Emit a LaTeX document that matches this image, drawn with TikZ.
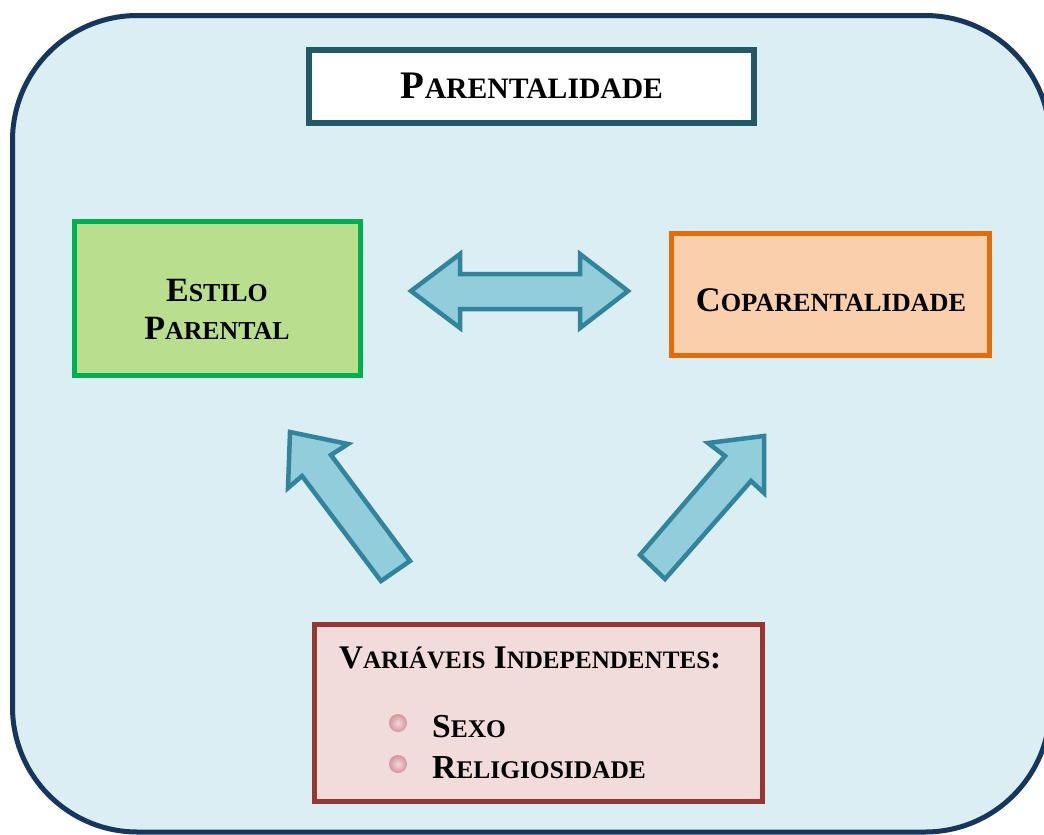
\documentclass[tikz,border=0pt]{standalone}
\usepackage{fontspec}
\setmainfont{Liberation Serif}
\usepackage{graphicx}
\definecolor{bgfill}{HTML}{DAEEF3}
\definecolor{outerline}{HTML}{17365D}
\definecolor{titleline}{HTML}{215968}
\definecolor{greenline}{HTML}{00B050}
\definecolor{greenfill}{HTML}{B9DF8E}
\definecolor{orangeline}{HTML}{E36C09}
\definecolor{orangefill}{HTML}{FAD0AC}
\definecolor{redline}{HTML}{953735}
\definecolor{redfill}{HTML}{F2DCDB}
\definecolor{arrowfill}{HTML}{92CDDC}
\definecolor{arrowline}{HTML}{31849B}
\definecolor{bulletpink}{HTML}{D3959A}
\newcommand\smc[1]{\scalebox{0.76}{#1}}
\tikzset{
  boxbase/.style={rectangle, inner sep=0pt},
  titlebox/.style={boxbase, draw=titleline, fill=white, line width=6pt},
  greenbox/.style={boxbase, draw=greenline, fill=greenfill, line width=5pt},
  orangebox/.style={boxbase, draw=orangeline, fill=orangefill, line width=5pt},
  redbox/.style={boxbase, draw=redline, fill=redfill, line width=5pt},
  blockarrow/.style={draw=arrowline, fill=arrowfill, line width=4.5pt, line join=miter},
  bulletdot/.style={inner color=bulletpink!35!white, outer color=bulletpink},
  lbl/.style={inner sep=0pt, font=\bfseries},
}
\begin{document}
\begin{tikzpicture}[x=1pt, y=-1pt]
\useasboundingbox (0,0) rectangle (1044,835);
% outer frame
\draw[line width=5pt, draw=outerline, fill=bgfill, rounded corners=125pt] (12.5,15.5) rectangle (1050,832);

% boxes
\node[titlebox, minimum width=445pt, minimum height=73pt] (tbox) at (531.5,86.5) {};
\node[greenbox, minimum width=286pt, minimum height=154pt] (estilo) at (217.5,298.5) {};
\node[orangebox, minimum width=318pt, minimum height=122pt] (copar) at (830.5,294.5) {};
\node[redbox, minimum width=448pt, minimum height=177pt] (vars) at (538.5,713) {};

% texts
\node[lbl, anchor=base, font=\bfseries\fontsize{39}{39}\selectfont] (ttext) at (532,98) {P\smc{ARENTALIDADE}};
\node[lbl, anchor=base, font=\bfseries\fontsize{34}{34}\selectfont] (est1) at (217,301) {E\smc{STILO}};
\node[lbl, anchor=base, font=\bfseries\fontsize{34}{34}\selectfont] (est2) at (217,339) {P\smc{ARENTAL}};
\node[lbl, anchor=base, font=\bfseries\fontsize{34.5}{34.5}\selectfont] (coptext) at (831,311) {C\smc{OPARENTALIDADE}};
\node[lbl, anchor=base west, font=\bfseries\fontsize{33}{33}\selectfont] (varhead) at (339,668) {V\smc{ARIÁVEIS} I\smc{NDEPENDENTES}:};
\node[lbl, anchor=base west, font=\bfseries\fontsize{33.5}{33.5}\selectfont] (sexo) at (432,737) {S\smc{EXO}};
\node[lbl, anchor=base west, font=\bfseries\fontsize{33.5}{33.5}\selectfont] (relig) at (432,778) {R\smc{ELIGIOSIDADE}};

% bullets
\shade[bulletdot] (398,723) circle (9);
\shade[bulletdot] (398,764) circle (9);

% double arrow between boxes
\draw[blockarrow] (411,291) -- (460,254) -- (460,274) -- (580,274) -- (580,254) -- (628,291)
  -- (580,328) -- (580,309) -- (460,309) -- (460,328) -- cycle;

% left diagonal arrow
\draw[blockarrow] (290,432) -- (348,444) -- (331,455) -- (410,561) -- (381,581)
  -- (302,476) -- (288,488) -- cycle;

% right diagonal arrow
\draw[blockarrow] (764,436) -- (764,493) -- (751,481) -- (665,579) -- (640,555)
  -- (725,456) -- (708,443) -- cycle;
\end{tikzpicture}
\end{document}
